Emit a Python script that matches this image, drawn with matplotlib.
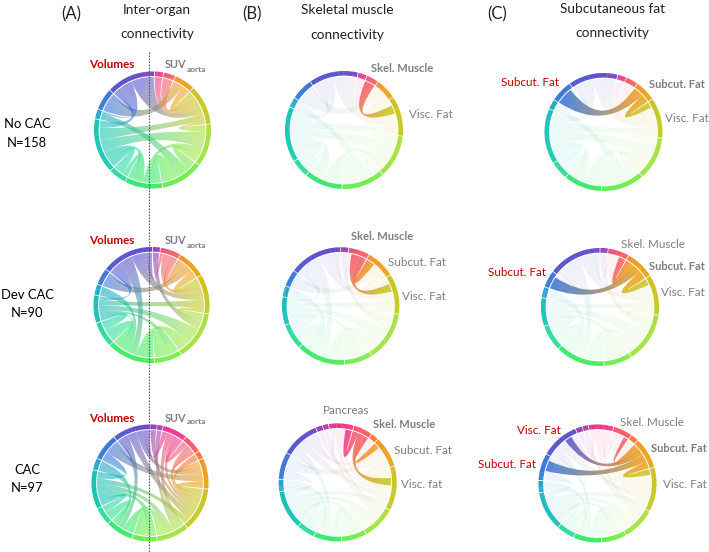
import numpy as np
import matplotlib
matplotlib.use('Agg')
import matplotlib.pyplot as plt
from matplotlib.path import Path
from matplotlib.patches import PathPatch, Wedge
from matplotlib.colors import to_rgb

plt.rcParams['font.family'] = ['Lato', 'DejaVu Sans']

# node sizes (degrees of ring, clockwise) and colours for each CAC group
sizes_no = [9, 12, 21, 40, 43, 43, 38, 18, 55, 10, 22, 49]
colors_no = ['#f0388c', '#fa5a6c', '#f0a020', '#c8c824', '#a8e448', '#70ee50',
             '#3ce870', '#30dca0', '#1cc8b8', '#20a8c8', '#3c78d8', '#5c54d0']
sizes_dev = [8, 21, 29, 40, 50, 28, 49, 26, 28, 11, 17, 53]
colors_dev = ['#9038b8', '#fa5a6c', '#f0a020', '#c8c824', '#a8e448', '#7cee50',
              '#44ec68', '#30dca0', '#1cc0b8', '#20a8c8', '#3c78d8', '#5c54d0']
sizes_cac = [7, 6, 25, 19, 8, 31, 44, 33, 25, 28, 18, 39, 12, 27, 38]
colors_cac = ['#9438b4', '#a838a8', '#f0388c', '#fa5a6c', '#f87038', '#f0a020',
              '#c8c824', '#a8e448', '#70ee50', '#3ce870', '#30dca0', '#1cc0b8',
              '#20a8c8', '#3c78d8', '#5c54d0']

# connections (node, node, weight)
links_no = [(0, 3, 8), (1, 3, 16), (2, 3, 11), (10, 2, 14), (3, 4, 6), (3, 8, 14),
            (4, 8, 14), (4, 5, 6), (4, 6, 7), (5, 9, 8), (5, 6, 10),
            (6, 8, 10), (7, 6, 5), (7, 8, 9), (11, 3, 13), (11, 8, 8),
            (11, 10, 2), (11, 9, 2)]
links_dev = [(0, 4, 7), (1, 2, 9), (1, 3, 11), (2, 3, 9), (10, 2, 9),
             (3, 4, 7), (3, 8, 12), (4, 8, 13), (4, 6, 11), (5, 6, 12),
             (5, 8, 6), (6, 7, 9), (6, 8, 7), (7, 8, 7), (9, 6, 8),
             (11, 3, 11), (11, 6, 10), (11, 8, 7), (11, 10, 2), (11, 1, 4)]
links_cac = [(0, 6, 5), (1, 7, 5), (2, 3, 8), (2, 7, 7), (2, 6, 6), (3, 5, 6),
             (3, 6, 9), (4, 6, 5), (5, 6, 7), (14, 5, 7), (13, 5, 8), (14, 6, 9),
             (6, 11, 7), (7, 11, 8), (7, 9, 9), (8, 9, 9),
             (8, 11, 7), (9, 10, 8), (10, 11, 6), (12, 9, 6),
             (13, 11, 7), (13, 14, 3), (14, 9, 8), (14, 2, 6)]

# which connections are shown solid in the muscle and fat columns
muscle_no = [(1, 3)]
fat_no = [(10, 2), (2, 3)]
muscle_dev = [(1, 2), (1, 3)]
fat_dev = [(1, 2), (10, 2), (2, 3)]
muscle_cac = [(2, 3), (3, 5), (3, 6)]
fat_cac = [(3, 5), (14, 5), (13, 5), (5, 6)]

row_labels = [('No CAC', 'N=158'), ('Dev CAC', 'N=90'), ('CAC', 'N=97')]

GRAY = '#7f7f7f'
RED = '#c00000'


def pt(cx, cy, r, a):
    a = np.radians(a)
    return cx + r * np.sin(a), cy - r * np.cos(a)


def draw_ring(ax, cx, cy, R, start, sizes, colors):
    a = start
    n = len(sizes)
    for i, s in enumerate(sizes):
        c = np.array(to_rgb(colors[i]))
        prev = np.array(to_rgb(colors[(i - 1) % n]))
        nxt = np.array(to_rgb(colors[(i + 1) % n]))
        steps = 10
        for k in range(steps):
            t = (k + 0.5) / steps
            other = prev if t < 0.5 else nxt
            col = c + (other - c) * abs(t - 0.5) * 0.5
            t1 = a + 0.4 + (s - 0.8) * k / steps
            t2 = a + 0.4 + (s - 0.8) * (k + 1) / steps + (0.3 if k < steps - 1 else 0)
            # wedge angles are counted from +x, y axis is flipped here
            ax.add_patch(Wedge((cx, cy), R, t1 - 90, t2 - 90, width=4.6, fc=col, ec='none'))
        a += s


def ribbon(ax, cx, cy, r, a1, a2, b1, b2, c1, c2, alpha):
    va = [pt(cx, cy, r, x) for x in np.linspace(a1, a2, 8)]
    vb = [pt(cx, cy, r, x) for x in np.linspace(b1, b2, 8)]
    verts = va + [(cx, cy)] + vb + [(cx, cy), va[0], va[0]]
    codes = [Path.MOVETO] + [Path.LINETO] * 7 + [Path.CURVE3, Path.CURVE3] + [Path.LINETO] * 7 + \
            [Path.CURVE3, Path.CURVE3, Path.CLOSEPOLY]
    patch = PathPatch(Path(verts, codes), fc='none', ec='none')
    ax.add_patch(patch)
    xa, ya = pt(cx, cy, r, (a1 + a2) / 2)
    xb, yb = pt(cx, cy, r, (b1 + b2) / 2)
    xs, ys = np.meshgrid(np.linspace(cx - r, cx + r, 40), np.linspace(cy - r, cy + r, 40))
    dx, dy = xb - xa, yb - ya
    t = np.clip(((xs - xa) * dx + (ys - ya) * dy) / (dx * dx + dy * dy), 0, 1)[..., None]
    rgba = np.dstack([np.array(to_rgb(c1)) * (1 - t) + np.array(to_rgb(c2)) * t,
                      np.full(t.shape, alpha)])
    im = ax.imshow(rgba, extent=(cx - r, cx + r, cy - r, cy + r), origin='lower',
                   interpolation='bilinear', aspect='auto', zorder=2)
    im.set_clip_path(patch)


def chord(ax, cx, cy, R, start, sizes, colors, links, solid=None):
    n = len(sizes)
    starts = start + np.concatenate(([0], np.cumsum(sizes)[:-1]))
    ends = {}
    for i in range(n):
        here = []
        for k, (u, v, w) in enumerate(links):
            if u == i:
                here.append((-((v - i) % n), k, w))
            elif v == i:
                here.append((-((u - i) % n), k, w))
        here.sort()
        tot = sum(h[2] for h in here)
        a = starts[i] + 0.5
        span = sizes[i] - 1.0
        for _, k, w in here:
            d = span * w / tot
            ends[(k, i)] = (a, a + d)
            a += d
    r = R - 5.6
    order = list(range(len(links)))
    if solid is not None:
        order.sort(key=lambda k: (links[k][0], links[k][1]) in solid)
    for k in order:
        u, v, w = links[k]
        if solid is None:
            alpha = 0.6
        elif (u, v) in solid:
            alpha = 0.88
        else:
            alpha = 0.09
        a1, a2 = ends[(k, u)]
        b1, b2 = ends[(k, v)]
        ribbon(ax, cx, cy, r, a1, a2, b1, b2, colors[u], colors[v], alpha)


fig = plt.figure(figsize=(7.09, 5.52), dpi=100)
ax = fig.add_axes([0, 0, 1, 1])
ax.set_xlim(0, 709)
ax.set_ylim(552, 0)
ax.axis('off')
ax.autoscale(False)

rows = [
    (sizes_no, colors_no, links_no, muscle_no, fat_no,
     [(152.5, 130, 58.5, 2), (344, 130, 59, 14), (603.5, 132, 59, 14)]),
    (sizes_dev, colors_dev, links_dev, muscle_dev, fat_dev,
     [(151.5, 305, 58, 1), (340.7, 306, 58.7, 0), (600, 307, 59, 0)]),
    (sizes_cac, colors_cac, links_cac, muscle_cac, fat_cac,
     [(150, 483, 58.5, 0), (337.7, 482.4, 59, -22), (597.5, 483.5, 59, -22)]),
]
for sizes, colors, links, muscle, fat, where in rows:
    for (cx, cy, R, start), solid in zip(where, (None, muscle, fat)):
        draw_ring(ax, cx, cy, R, start, sizes, colors)
        chord(ax, cx, cy, R, start, sizes, colors, links, solid)

ax.plot([149.3, 149.3], [52, 552], color='#555555', lw=0.8, ls=(0, (1.5, 1.2)), zorder=5)

# headers
fs = 9.8
for x, s in [(71, '(A)'), (252, '(B)'), (497, '(C)')]:
    ax.text(x, 14, s, ha='center', va='center', fontsize=12, color='#222222')
for x, y1, y2, s1, s2 in [(157, 10, 34, 'Inter-organ', 'connectivity'),
                          (347, 10, 35, 'Skeletal muscle', 'connectivity'),
                          (612, 9, 33, 'Subcutaneous fat', 'connectivity')]:
    ax.text(x, y1, s1, ha='center', va='center', fontsize=fs, color='#222222')
    ax.text(x, y2, s2, ha='center', va='center', fontsize=fs, color='#222222')

# row names
for (a, b), y1, y2 in zip(row_labels, (124, 295, 470), (143, 313, 488)):
    ax.text(27, y1, a, ha='center', va='center', fontsize=9.4, color='black')
    ax.text(27, y2, b, ha='center', va='center', fontsize=9.4, color='black')

# column A labels
for y in (65, 241, 418):
    ax.text(89, y, 'Volumes', ha='left', va='center', fontsize=8.4, fontweight='bold', color=RED)
    ax.text(165, y, 'SUV', ha='left', va='center', fontsize=7.8, fontweight='bold', color=GRAY)
    ax.text(187, y + 4, 'aorta', ha='left', va='center', fontsize=6, fontweight='bold', color=GRAY)

# node labels
labels = [
    (371, 69, 'Skel. Muscle', True, GRAY), (409, 115, 'Visc. Fat', False, GRAY),
    (351, 237, 'Skel. Muscle', True, GRAY), (388, 262, 'Subcut. Fat', False, GRAY),
    (402, 296, 'Visc. Fat', False, GRAY),
    (323, 411, 'Pancreas', False, GRAY), (373, 424, 'Skel. Muscle', True, GRAY),
    (394, 450, 'Subcut. Fat', False, GRAY), (401, 485, 'Visc. fat', False, GRAY),
    (501, 83, 'Subcut. Fat', False, RED), (649, 85, 'Subcut. Fat', True, GRAY),
    (665, 119, 'Visc. Fat', False, GRAY),
    (488, 273, 'Subcut. Fat', False, RED), (621, 244, 'Skel. Muscle', False, GRAY),
    (649, 266, 'Subcut. Fat', True, GRAY), (661, 292, 'Visc. Fat', False, GRAY),
    (517, 431, 'Visc. Fat', False, RED), (478, 464, 'Subcut. Fat', False, RED),
    (620, 422, 'Skel. Muscle', False, GRAY), (651, 448, 'Subcut. Fat', True, GRAY),
    (663, 485, 'Visc. Fat', False, GRAY),
]
for x, y, s, bold, col in labels:
    ax.text(x, y, s, ha='left', va='center', fontsize=8.0 if bold else 8.4,
            fontweight='bold' if bold else 'normal', color=col)

plt.savefig('out.png', dpi=100)
